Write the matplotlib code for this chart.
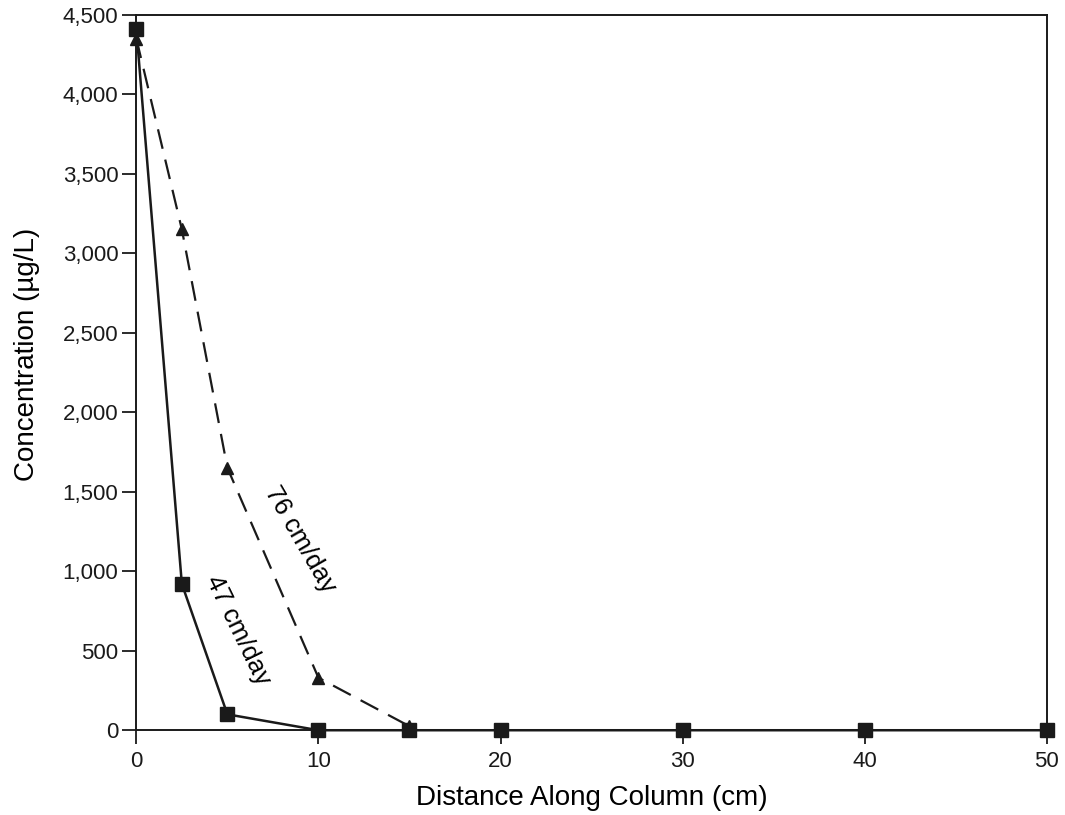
import numpy as np
import matplotlib.pyplot as plt

plt.rcParams['font.family'] = ['Liberation Sans', 'DejaVu Sans']

# 47 cm/day (squares, solid)
dist_47 = [0, 2.5, 5, 10, 15, 20, 30, 40, 50]
conc_47 = [4410, 920, 100, 0, 0, 0, 0, 0, 0]
# 76 cm/day (triangles, dashed)
dist_76 = [0, 2.5, 5, 10, 15]
conc_76 = [4350, 3150, 1650, 330, 25]

xticks = [0, 10, 20, 30, 40, 50]
yticks = np.arange(0, 4501, 500)

fig = plt.figure(figsize=(10.65, 8.15), dpi=100)
ax = fig.add_axes([0.128, 0.104, 0.855, 0.878])

ax.plot(dist_76, conc_76, color='#1a1a1a', lw=1.6, ls=(0, (9, 5)),
        marker='^', ms=8, clip_on=False, zorder=3)
ax.plot(dist_47, conc_47, color='#1a1a1a', lw=1.8, ls='-',
        marker='s', ms=10, clip_on=False, zorder=4)

ax.set_xlim(0, 50)
ax.set_ylim(0, 4500)
ax.set_xticks(xticks)
ax.set_yticks(yticks)
ax.set_yticklabels([f'{v:,}' for v in yticks])
ax.tick_params(direction='out', length=10, width=1.3, labelsize=16,
               colors='#1a1a1a', pad=3)
ax.tick_params(axis='x', pad=5)
for s in ax.spines.values():
    s.set_linewidth(1.4)
    s.set_color('#1a1a1a')

ax.set_xlabel('Distance Along Column (cm)', fontsize=20, labelpad=9)
ax.set_ylabel('Concentration (µg/L)', fontsize=20, labelpad=16)
ax.yaxis.label.set_y(0.525)

ax.text(9.0, 1200, '76 cm/day', rotation=-60, fontsize=18.5,
        ha='center', va='center')
ax.text(5.6, 630, '47 cm/day', rotation=-64, fontsize=18.5,
        ha='center', va='center')

fig.savefig('out.png', dpi=100)
